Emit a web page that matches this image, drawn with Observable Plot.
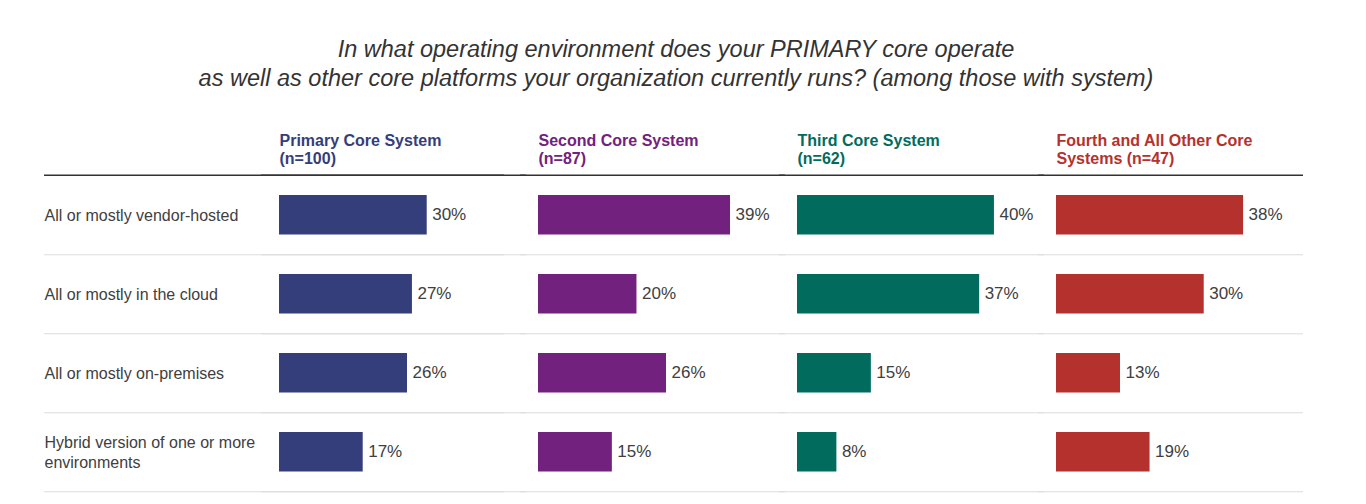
<!DOCTYPE html>
<html>
<head>
<meta charset="utf-8">
<script src="https://cdn.jsdelivr.net/npm/d3@7"></script>
<script src="https://cdn.jsdelivr.net/npm/@observablehq/plot@0.6"></script>
<style>
  html, body { margin: 0; padding: 0; background: #fff; }
  body { width: 1366px; height: 504px; overflow: hidden; font-family: "Liberation Sans", Arial, sans-serif; }
  #title { padding-top: 35px; padding-right: 14px; height: 58px; text-align: center; font-style: italic; font-size: 23.5px; line-height: 29px; color: #333; }
  #chart svg { display: block; }
</style>
</head>
<body>
<div id="title">In what operating environment does your PRIMARY core operate<br>as well as other core platforms your organization currently runs? (among those with system)</div>
<div id="chart"></div>
<script>
const rows = ["All or mostly vendor-hosted", "All or mostly in the cloud", "All or mostly on-premises", "Hybrid version of one or more environments"];
const rowLabels = ["All or mostly vendor-hosted", "All or mostly in the cloud", "All or mostly on-premises", "Hybrid version of one or more\nenvironments"];
const systems = ["Primary Core System", "Second Core System", "Third Core System", "Fourth and All Other Core Systems"];
const headerLabels = ["Primary Core System\n(n=100)", "Second Core System\n(n=87)", "Third Core System\n(n=62)", "Fourth and All Other Core\nSystems (n=47)"];
const colors = ["#343e7b", "#73217e", "#016c5e", "#b5312e"];
const primaryValues = [30, 27, 26, 17];
const secondValues = [39, 20, 26, 15];
const thirdValues = [40, 37, 15, 8];
const fourthValues = [38, 30, 13, 19];

const seriesValues = [primaryValues, secondValues, thirdValues, fourthValues];
const table = [];
systems.forEach((s, si) => rows.forEach((r, ri) => table.push({system: s, row: r, value: seriesValues[si][ri]})));
const ruleData = [];
systems.forEach(s => rows.forEach(r => ruleData.push({system: s, row: r})));
const firstRules = rows.map(r => ({system: systems[0], row: r}));
const labelData = rows.map((r, i) => ({system: systems[0], row: r, label: rowLabels[i]}));
const headerData = systems.map((s, i) => ({system: s, label: headerLabels[i]}));

const W = 1366, H = 411, mTop = 81, mBottom = 12;
const band = (H - mTop - mBottom) / rows.length;

const chart = Plot.plot({
  width: W,
  height: H,
  marginLeft: 278,
  marginRight: 84,
  marginTop: mTop,
  marginBottom: mBottom,
  style: {fontFamily: "'Liberation Sans', Arial, sans-serif", background: "#fff"},
  fx: {domain: systems, paddingInner: 0.1324, paddingOuter: 0, axis: null},
  x: {domain: [0, 45.7], axis: null},
  y: {domain: rows, padding: 0, axis: null},
  color: {domain: systems, range: colors},
  marks: [
    Plot.ruleY(ruleData, {fx: "system", y: "row", dy: band / 2, stroke: "#dcdcdc", strokeWidth: 1.2, insetLeft: -18, insetRight: -22}),
    Plot.ruleY(firstRules, {fx: "system", y: "row", dy: band / 2, stroke: "#dcdcdc", strokeWidth: 1.2, insetLeft: -235}),
    Plot.ruleY(headerData, {fx: "system", y: () => rows[0], dy: -band / 2, stroke: "#333", strokeWidth: 1.5, insetLeft: -18, insetRight: -22}),
    Plot.ruleY([{system: systems[0]}], {fx: "system", y: () => rows[0], dy: -band / 2, stroke: "#333", strokeWidth: 1.5, insetLeft: -235}),
    Plot.barX(table, {fx: "system", y: "row", x: "value", fill: "system", insetTop: 20, insetBottom: 19.5}),
    Plot.text(table, {fx: "system", y: "row", x: "value", text: d => `${d.value}%`, dx: 5, textAnchor: "start", fontSize: 17, fill: "#404040"}),
    Plot.text(labelData, {fx: "system", y: "row", text: "label", frameAnchor: "left", dx: -235, textAnchor: "start", fontSize: 16, lineHeight: 1.25, fill: "#404040"}),
    Plot.text(headerData, {fx: "system", text: "label", fill: "system", frameAnchor: "top-left", lineAnchor: "bottom", dy: -11, textAnchor: "start", fontSize: 16, fontWeight: "bold", lineHeight: 1.125})
  ]
});
document.getElementById("chart").appendChild(chart);
</script>
</body>
</html>
